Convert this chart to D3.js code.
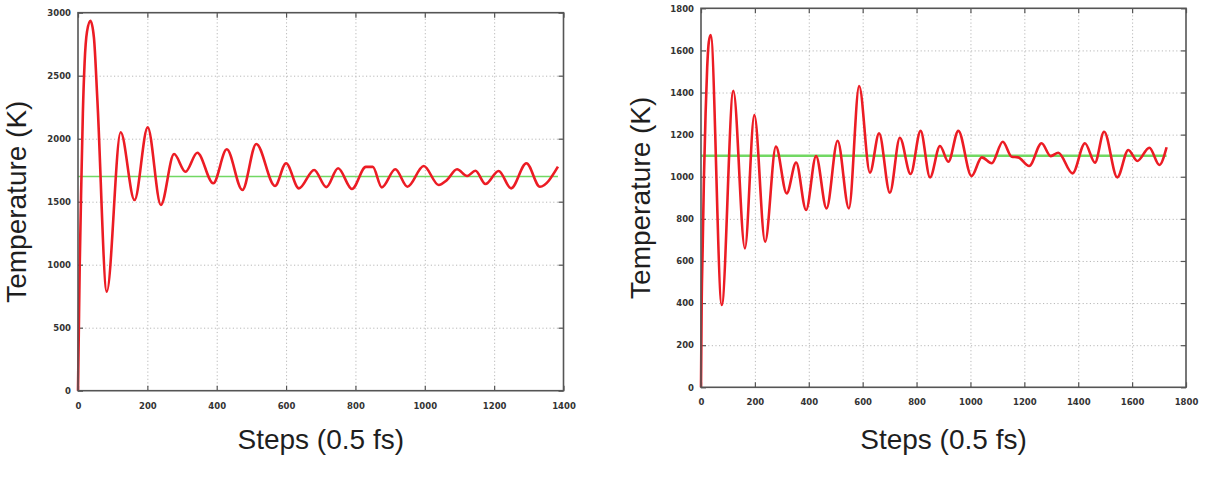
<!DOCTYPE html>
<meta charset="utf-8" />
<script src="https://d3js.org/d3.v7.js"></script>
<style>
  body { margin: 0; background: #fff; }
  .grid line { stroke: #b8b8b8; stroke-width: 1; stroke-dasharray: 1.2, 2.4; }
  .grid path { display: none; }
  .ticks path { display: none; }
  .ticks line { stroke: #555; stroke-width: 1.2; }
  .ticks text { font-family: "DejaVu Sans", sans-serif; font-weight: bold; font-size: 8.5px; fill: #333; }
  .title { font-family: "Liberation Sans", Arial, sans-serif; font-size: 28px; fill: #1e1e1e; }
</style>
<div id="my_dataviz_div"></div>
<script>
  // panel (a): target 1700 K
  var stepsA = [0, 2, 5, 10, 14, 19, 26, 36, 46, 56, 83, 123, 163, 201, 239, 277, 310, 344, 390, 429, 474, 514, 568, 600, 637, 681, 716, 750, 790, 830, 850, 876, 915, 950, 997, 1040, 1064, 1093, 1122, 1146, 1175, 1213, 1249, 1293, 1332, 1384];
  var tempA = [0, 400, 1000, 1700, 2200, 2600, 2850, 2935, 2800, 2300, 786, 2051, 1513, 2090, 1474, 1878, 1738, 1889, 1646, 1916, 1593, 1958, 1625, 1805, 1606, 1752, 1616, 1765, 1601, 1776, 1776, 1614, 1757, 1619, 1783, 1633, 1672, 1757, 1704, 1746, 1640, 1744, 1606, 1805, 1619, 1778];
  var targetA = 1700;
  var xTicksA = [0, 200, 400, 600, 800, 1000, 1200, 1400];
  var yTicksA = [0, 500, 1000, 1500, 2000, 2500, 3000];

  // panel (b): target 1100 K
  var stepsB = [0, 2.5, 6, 11, 17, 23, 29, 36, 77, 120, 163, 198, 238, 278, 318, 353, 390, 427, 466, 507, 549, 587, 627, 661, 701, 738, 778, 815, 850, 887, 918, 955, 1004, 1042, 1079, 1120, 1153, 1177, 1218, 1264, 1298, 1326, 1379, 1425, 1462, 1496, 1545, 1586, 1619, 1664, 1701, 1728];
  var tempB = [0, 400, 650, 1000, 1300, 1520, 1640, 1673, 391, 1408, 660, 1293, 691, 1143, 921, 1068, 842, 1098, 850, 1171, 850, 1431, 1019, 1206, 924, 1185, 1013, 1218, 997, 1146, 1071, 1218, 1003, 1092, 1064, 1166, 1095, 1092, 1051, 1159, 1098, 1114, 1016, 1159, 1067, 1214, 997, 1127, 1075, 1138, 1056, 1140];
  var targetB = 1100;
  var xTicksB = [0, 200, 400, 600, 800, 1000, 1200, 1400, 1600, 1800];
  var yTicksB = [0, 200, 400, 600, 800, 1000, 1200, 1400, 1600, 1800];

  var xLabel = "Steps (0.5 fs)";
  var yLabel = "Temperature (K)";

  const width = 1216;
  const height = 480;
  const svg = d3
    .select("#my_dataviz_div")
    .append("svg")
    .attr("width", width)
    .attr("height", height);

  var fmt = d3.format("d");

  function drawPanel(steps, temps, target, xTicks, yTicks, box) {
    var g = svg.append("g");
    var x = d3.scaleLinear()
      .domain([0, xTicks[xTicks.length - 1]])
      .range([box.left, box.right]);
    var y = d3.scaleLinear()
      .domain([0, yTicks[yTicks.length - 1]])
      .range([box.bottom, box.top]);
    var w = box.right - box.left;
    var h = box.bottom - box.top;

    // dotted grid
    g.append("g").attr("class", "grid")
      .attr("transform", "translate(0," + box.bottom + ")")
      .call(d3.axisBottom(x).tickValues(xTicks.slice(1, -1)).tickSize(-h).tickFormat(""));
    g.append("g").attr("class", "grid")
      .attr("transform", "translate(" + box.left + ",0)")
      .call(d3.axisLeft(y).tickValues(yTicks.slice(1, -1)).tickSize(-w).tickFormat(""));

    // ticks, inward, mirrored like gnuplot
    g.append("g").attr("class", "ticks")
      .attr("transform", "translate(0," + box.bottom + ")")
      .call(d3.axisBottom(x).tickValues(xTicks).tickSize(-5).tickPadding(12).tickFormat(fmt));
    g.append("g").attr("class", "ticks")
      .attr("transform", "translate(0," + box.top + ")")
      .call(d3.axisTop(x).tickValues(xTicks).tickSize(-5).tickFormat(""));
    g.append("g").attr("class", "ticks")
      .attr("transform", "translate(" + box.left + ",0)")
      .call(d3.axisLeft(y).tickValues(yTicks).tickSize(-5).tickPadding(7).tickFormat(fmt));
    g.append("g").attr("class", "ticks")
      .attr("transform", "translate(" + box.right + ",0)")
      .call(d3.axisRight(y).tickValues(yTicks).tickSize(-5).tickFormat(""));

    // target temperature
    g.append("line")
      .attr("x1", x(0))
      .attr("x2", x(steps[steps.length - 1]))
      .attr("y1", y(target))
      .attr("y2", y(target))
      .attr("stroke", "#72d863")
      .attr("stroke-width", box.green);

    // temperature curve
    var line = d3.line()
      .x(function (d, i) { return x(steps[i]); })
      .y(function (d) { return y(d); })
      .curve(d3.curveMonotoneX);
    g.append("path")
      .datum(temps)
      .attr("d", line)
      .attr("fill", "none")
      .attr("stroke", "#ec1c24")
      .attr("stroke-width", 2.6)
      .attr("stroke-linejoin", "round");

    // border
    g.append("rect")
      .attr("x", box.left)
      .attr("y", box.top)
      .attr("width", w)
      .attr("height", h)
      .attr("fill", "none")
      .attr("stroke", "#555")
      .attr("stroke-width", 1.6);

    // axis titles
    g.append("text")
      .attr("class", "title")
      .attr("text-anchor", "middle")
      .attr("x", (box.left + box.right) / 2)
      .attr("y", 449)
      .text(xLabel);
    g.append("text")
      .attr("class", "title")
      .attr("text-anchor", "middle")
      .attr("transform", "translate(" + box.ylab + "," + (box.top + box.bottom) / 2 + ") rotate(-90)")
      .text(yLabel);
  }

  drawPanel(stepsA, tempA, targetA, xTicksA, yTicksA,
    { left: 78, right: 563.5, top: 12.7, bottom: 390.7, ylab: 26, green: 1.5 });
  drawPanel(stepsB, tempB, targetB, xTicksB, yTicksB,
    { left: 701, right: 1186, top: 8.3, bottom: 387.3, ylab: 650, green: 2.5 });
</script>
